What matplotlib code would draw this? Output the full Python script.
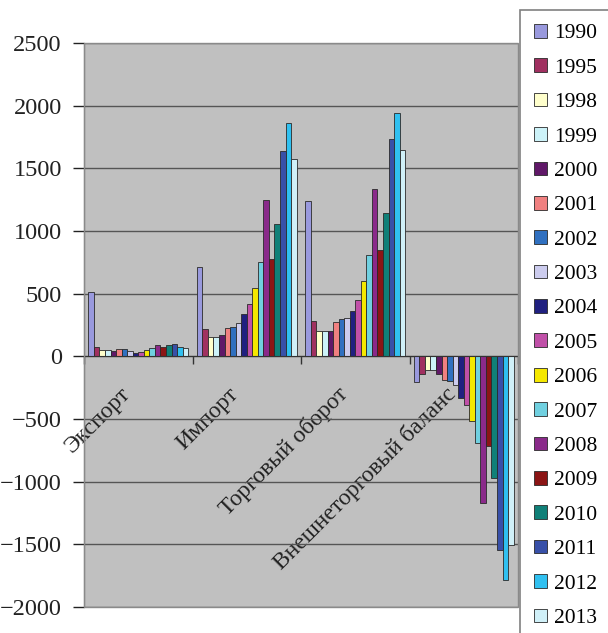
"""Grouped bar chart: export, import, trade turnover and trade balance by year."""

import numpy as np
import matplotlib.pyplot as plt
from matplotlib.transforms import ScaledTranslation

plt.rcParams["font.family"] = ["Liberation Serif", "DejaVu Serif"]

categories = ["Экспорт", "Импорт", "Торговый оборот", "Внешнеторговый баланс"]
years = ["1990", "1995", "1998", "1999", "2000", "2001", "2002", "2003", "2004",
         "2005", "2006", "2007", "2008", "2009", "2010", "2011", "2012", "2013"]

export_vals = [515, 75, 48, 48, 40, 57, 55, 40, 30, 35, 50, 65, 88, 75, 88, 95, 72, 64]
import_vals = [715, 219, 152, 152, 173, 229, 237, 264, 341, 419, 547, 752, 1245, 773,
               1053, 1640, 1859, 1573]
turnover_vals = [1243, 280, 200, 200, 205, 275, 296, 307, 365, 448, 600, 805, 1339, 845,
                 1141, 1733, 1944, 1643]
balance_vals = [-208, -139, -107, -107, -139, -187, -197, -232, -331, -392, -512, -693,
                -1173, -712, -971, -1544, -1784, -1504]

colors = ["#9999dd", "#a03060", "#ffffcc", "#ccf2f8", "#601868", "#f08080", "#3070c0",
          "#ccccee", "#202080", "#c050a8", "#f5e800", "#70d0e0", "#8a2a8a", "#8b1515",
          "#108078", "#3850a8", "#30c0f0", "#d0f0f8"]

data = np.array([export_vals, import_vals, turnover_vals, balance_vals])  # (4, 18)

fig = plt.figure(figsize=(6.08, 6.33), dpi=100)
ax = fig.add_axes([84 / 608, 26 / 633, 434 / 608, 564 / 633])
ax.set_facecolor("#c0c0c0")

n = len(years)
span = 0.92
bw = span / n
x = np.arange(len(categories))

handles = []
for i, yr in enumerate(years):
    pos = x - span / 2 + (i + 0.5) * bw
    b = ax.bar(pos, data[:, i], width=bw, color=colors[i], edgecolor="#2a2a2a",
               linewidth=0.6, zorder=3, label=yr)
    handles.append(b)

ax.set_xlim(-0.5, len(categories) - 0.5)
ax.set_ylim(-2000, 2500)
ax.set_yticks(np.arange(-2000, 2501, 500))
ax.grid(axis="y", color="#555555", linewidth=1, zorder=1)
ax.tick_params(axis="y", direction="out", length=8, width=1, labelsize=17.5, pad=8,
               colors="#222222")

# category axis crosses at zero
ax.spines["bottom"].set_position(("data", 0))
ax.spines["bottom"].set_color("#333333")
ax.spines["bottom"].set_zorder(4)
ax.spines["left"].set_color("#333333")
ax.spines["top"].set_visible(False)
ax.spines["right"].set_visible(False)
ax.add_patch(plt.Rectangle((0, 0), 1, 1, transform=ax.transAxes, fill=False,
                           edgecolor="#8a8a8a", linewidth=1, zorder=5, clip_on=False))

ax.set_xticks(x)
ax.set_xticklabels(categories, rotation=45, ha="right", va="center",
                   rotation_mode="anchor", fontsize=17, color="#222222")
ax.set_xticks(np.arange(-0.5, len(categories), 1), minor=True)
ax.tick_params(axis="x", which="major", length=0, pad=25)
ax.tick_params(axis="x", which="minor", length=6, width=1, direction="out",
               colors="#333333")
shift = ScaledTranslation(-8 / 72, 0, fig.dpi_scale_trans)
for lbl in ax.get_xticklabels():
    lbl.set_transform(lbl.get_transform() + shift)

leg = fig.legend(handles=handles, loc="upper left", bbox_to_anchor=(520 / 608, 1 - 10 / 633),
                 borderaxespad=0, fontsize=15.5, frameon=True, fancybox=False,
                 edgecolor="#808080", framealpha=1, handlelength=0.6, handleheight=0.6,
                 handletextpad=0.35, labelspacing=0.695, borderpad=0.65)
leg.get_frame().set_linewidth(1.2)

fig.savefig("out.png", dpi=100)
